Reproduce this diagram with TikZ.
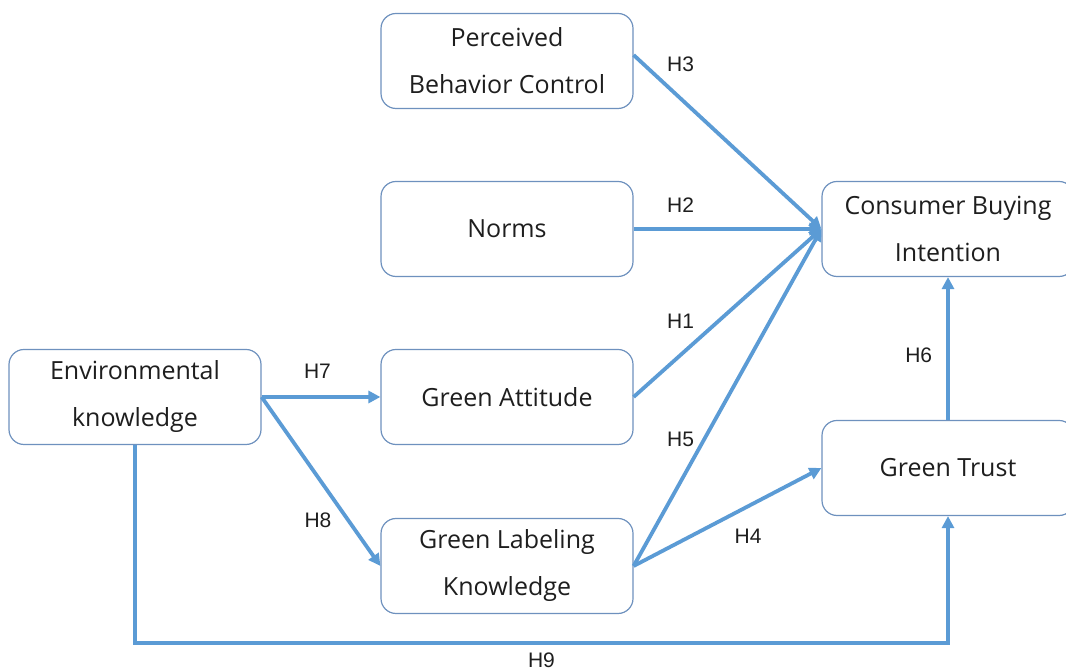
\documentclass[tikz,border=0pt]{standalone}
\usepackage{fontspec}
\setmainfont{Open Sans}
\newfontfamily\hypfont{Liberation Sans}
\usepackage{tikz}
\usetikzlibrary{positioning,arrows.meta,calc}
\definecolor{linkblue}{RGB}{91,155,213}
\definecolor{frame}{RGB}{110,145,190}
\definecolor{ink}{RGB}{30,30,30}
\tikzset{
  box/.style={draw=frame, line width=0.6pt, rounded corners=7.5pt, fill=white, align=center, minimum width=126pt, minimum height=47.5pt, inner sep=0pt, text=ink, font=\fontsize{12.5}{23.5}\selectfont},
  arrow/.style={-{Triangle[length=6pt,width=6pt]}, line width=1.9pt, draw=linkblue},
  lbl/.style={font=\hypfont\fontsize{10.5}{12}\selectfont, text=ink, inner sep=1pt}
}
\begin{document}
\begin{tikzpicture}[x=0.5pt, y=-0.5pt]
  \useasboundingbox (0,0) rectangle (1066,672);
  \node[box] (pbc) at (507,61) {Perceived\\Behavior Control};
  \node[box] (norms) at (507,229) {Norms};
  \node[box] (attitude) at (507,397) {Green Attitude};
  \node[box] (labeling) at (507,566) {Green Labeling\\Knowledge};
  \node[box] (envknow) at (135,397) {Environmental\\knowledge};
  \node[box] (intention) at (948,229) {Consumer Buying\\Intention};
  \node[box] (trust) at (948,468) {Green Trust};
  % paths into buying intention
  \draw[arrow] ([yshift=3pt]pbc.east) -- node[lbl, pos=0.25, above=11.5pt] {H3} (intention.west);
  \draw[arrow] (norms.east) -- node[lbl, pos=0.25, above=6.5pt] {H2} (intention.west);
  \draw[arrow] (attitude.east) -- node[lbl, pos=0.25, above=11.5pt] {H1} (intention.west);
  \draw[arrow] (labeling.east) -- node[lbl, pos=0.25, above=15.5pt] {H5} (intention.west);
  \draw[arrow] (labeling.east) -- node[lbl, pos=0.61, below=9.5pt] {H4} (trust.west);
  \draw[arrow] (trust.north) -- node[lbl, pos=0.45, left=6pt] {H6} (intention.south);
  % paths out of environmental knowledge
  \draw[arrow] (envknow.east) -- node[lbl, pos=0.47, above=7.5pt] {H7} (attitude.west);
  \draw[arrow] (envknow.east) -- node[lbl, pos=0.73, left=6.5pt] {H8} (labeling.west);
  \draw[arrow] (envknow.south) -- ++(0,198) -| node[lbl, pos=0.25, below=3pt] {H9} (trust.south);
\end{tikzpicture}
\end{document}
